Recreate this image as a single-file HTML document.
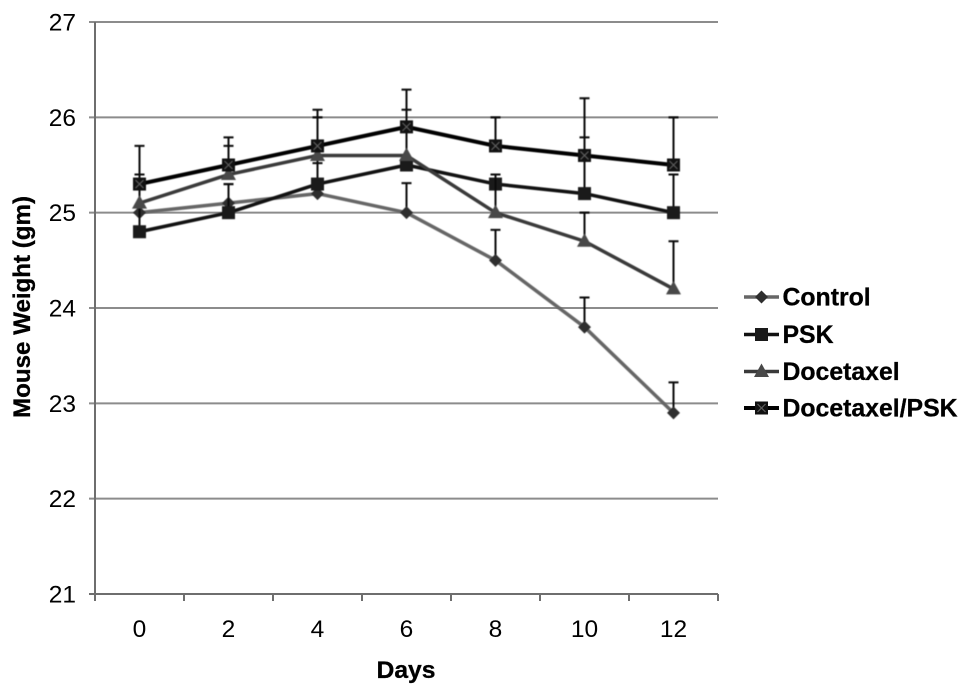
<!DOCTYPE html>
<html>
<head>
<meta charset="utf-8">
<title>Mouse Weight</title>
<style>
html,body{margin:0;padding:0;background:#fff;}
svg{display:block;font-family:"Liberation Sans",sans-serif;}
</style>
</head>
<body>
<svg id="chart" xmlns="http://www.w3.org/2000/svg" width="969" height="696" viewBox="0 0 969 696">
<rect x="0" y="0" width="969" height="696" fill="#ffffff"/>
<g id="grid"></g>
<g id="axes" style="filter:blur(0.3px)"></g>
<g id="series" style="filter:blur(0.4px)"></g>
<text x="406" y="678" text-anchor="middle" font-size="24" font-weight="bold" fill="#000" stroke="#000" stroke-width="0.3" textLength="59" lengthAdjust="spacingAndGlyphs">Days</text>
<text transform="translate(30,307) rotate(-90)" text-anchor="middle" font-size="24" font-weight="bold" fill="#000" stroke="#000" stroke-width="0.3" textLength="222" lengthAdjust="spacingAndGlyphs">Mouse Weight (gm)</text>
<g id="legend"></g>
</svg>
<script>
const days = [0, 2, 4, 6, 8, 10, 12];
const yTicks = [21, 22, 23, 24, 25, 26, 27];
const seriesNames = ["Control", "PSK", "Docetaxel", "Docetaxel/PSK"];
const controlValues = [25.0, 25.1, 25.2, 25.0, 24.5, 23.8, 22.9];
const pskValues = [24.8, 25.0, 25.3, 25.5, 25.3, 25.2, 25.0];
const docetaxelValues = [25.1, 25.4, 25.6, 25.6, 25.0, 24.7, 24.2];
const comboValues = [25.3, 25.5, 25.7, 25.9, 25.7, 25.6, 25.5];
const controlErrors = [0.4, 0.2, 0.32, 0.31, 0.32, 0.31, 0.32];
const pskErrors = [0.6, 0.3, 0.3, 0.4, 0.1, 0.59, 0.4];
const docetaxelErrors = [0.3, 0.3, 0.4, 0.48, 0.4, 0.3, 0.5];
const comboErrors = [0.4, 0.29, 0.38, 0.39, 0.3, 0.6, 0.5];

const plotLeft = 95, plotRight = 718, plotTop = 22, plotBottom = 594;
const yMin = 21, yMax = 27;
const NS = "http://www.w3.org/2000/svg";
const bandWidth = (plotRight - plotLeft) / days.length;

function xScale(i) { return plotLeft + bandWidth * (i + 0.5); }
function yScale(v) { return plotBottom - (v - yMin) / (yMax - yMin) * (plotBottom - plotTop); }
function make(tag, attrs, parent) {
  const el = document.createElementNS(NS, tag);
  for (const k in attrs) el.setAttribute(k, attrs[k]);
  parent.appendChild(el);
  return el;
}

const gridG = document.getElementById("grid");
const axesG = document.getElementById("axes");
const seriesG = document.getElementById("series");
const legendG = document.getElementById("legend");

yTicks.forEach(function (t) {
  const y = yScale(t);
  const line = make("line", {x1: 89, x2: plotRight, y1: y, y2: y, stroke: t === yMin ? "#6e6e6e" : "#8c8c8c", "stroke-width": 2}, gridG);
  
  
  const label = make("text", {x: 76, y: y + 8.5, "text-anchor": "end", "font-size": 24.5, fill: "#000"}, axesG);
  label.textContent = String(t);
  
  
});

const yAxisLine = make("line", {x1: plotLeft, x2: plotLeft, y1: plotTop, y2: plotBottom + 7, stroke: "#6e6e6e", "stroke-width": 2}, axesG);



for (let i = 1; i <= days.length; i++) {
  const x = plotLeft + bandWidth * i;
  const tick = make("line", {x1: x, x2: x, y1: plotBottom, y2: plotBottom + 7, stroke: "#6e6e6e", "stroke-width": 2}, axesG);
  
  
}

days.forEach(function (d, i) {
  const label = make("text", {x: xScale(i), y: 637, "text-anchor": "middle", "font-size": 24.5, fill: "#000"}, axesG);
  label.textContent = String(d);
  
  
});

function drawMarker(kind, x, y, parent) {
  if (kind === "diamond") {
    const d = make("path", {d: "M" + x + " " + (y - 6.5) + "L" + (x + 6.5) + " " + y + "L" + x + " " + (y + 6.5) + "L" + (x - 6.5) + " " + y + "Z", fill: "#2e2e2e"}, parent);
    
    
  } else if (kind === "square") {
    const s = make("rect", {x: x - 6.5, y: y - 6.5, width: 13, height: 13, fill: "#1a1a1a"}, parent);
    
    
  } else if (kind === "triangle") {
    const t = make("path", {d: "M" + x + " " + (y - 8) + "L" + (x + 7.5) + " " + (y + 5.5) + "L" + (x - 7.5) + " " + (y + 5.5) + "Z", fill: "#484848"}, parent);
    
    
  } else {
    const s = make("rect", {x: x - 6.5, y: y - 6.5, width: 13, height: 13, fill: "#111111"}, parent);
    
    
    const c = make("path", {d: "M" + (x - 4) + " " + (y - 4) + "L" + (x + 4) + " " + (y + 4) + "M" + (x + 4) + " " + (y - 4) + "L" + (x - 4) + " " + (y + 4), stroke: "#5c5c5c", "stroke-width": 1.2, fill: "none"}, parent);
    
    
  }
}

const seriesStyles = [
  {values: controlValues, errors: controlErrors, color: "#666666", width: 3.5, marker: "diamond"},
  {values: pskValues, errors: pskErrors, color: "#111111", width: 3.5, marker: "square"},
  {values: docetaxelValues, errors: docetaxelErrors, color: "#3a3a3a", width: 3.5, marker: "triangle"},
  {values: comboValues, errors: comboErrors, color: "#000000", width: 4, marker: "cross"}
];

seriesStyles.forEach(function (s, idx) {
  const g = make("g", {}, seriesG);
  
  
  s.values.forEach(function (v, i) {
    const x = xScale(i), y0 = yScale(v), y1 = yScale(v + s.errors[i]);
    const bar = make("path", {d: "M" + x + " " + y0 + "V" + y1 + "M" + (x - 5) + " " + y1 + "H" + (x + 5), stroke: "#0a0a0a", "stroke-width": 2, fill: "none"}, g);
    
    
  });
  const pts = s.values.map(function (v, i) { return xScale(i) + "," + yScale(v); }).join(" ");
  const line = make("polyline", {points: pts, fill: "none", stroke: s.color, "stroke-width": s.width, "stroke-linejoin": "round"}, g);
  
  
  s.values.forEach(function (v, i) {
    drawMarker(s.marker, xScale(i), yScale(v), g);
  });
});

const legendRows = [297, 334.5, 371.5, 408];
seriesNames.forEach(function (name, i) {
  const y = legendRows[i];
  const s = seriesStyles[i];
  const entry = make("g", {}, legendG);
  
  
  const line = make("line", {x1: 744, x2: 779, y1: y, y2: y, stroke: s.color, "stroke-width": s.width}, entry);
  
  
  drawMarker(s.marker, 761.5, y, entry);
  const label = make("text", {x: 782.5, y: y + 8.5, "font-size": 24.8, "font-weight": "bold", fill: "#000", stroke: "#000", "stroke-width": 0.3}, entry);
  label.textContent = name;
  
  
});
</script>
</body>
</html>
